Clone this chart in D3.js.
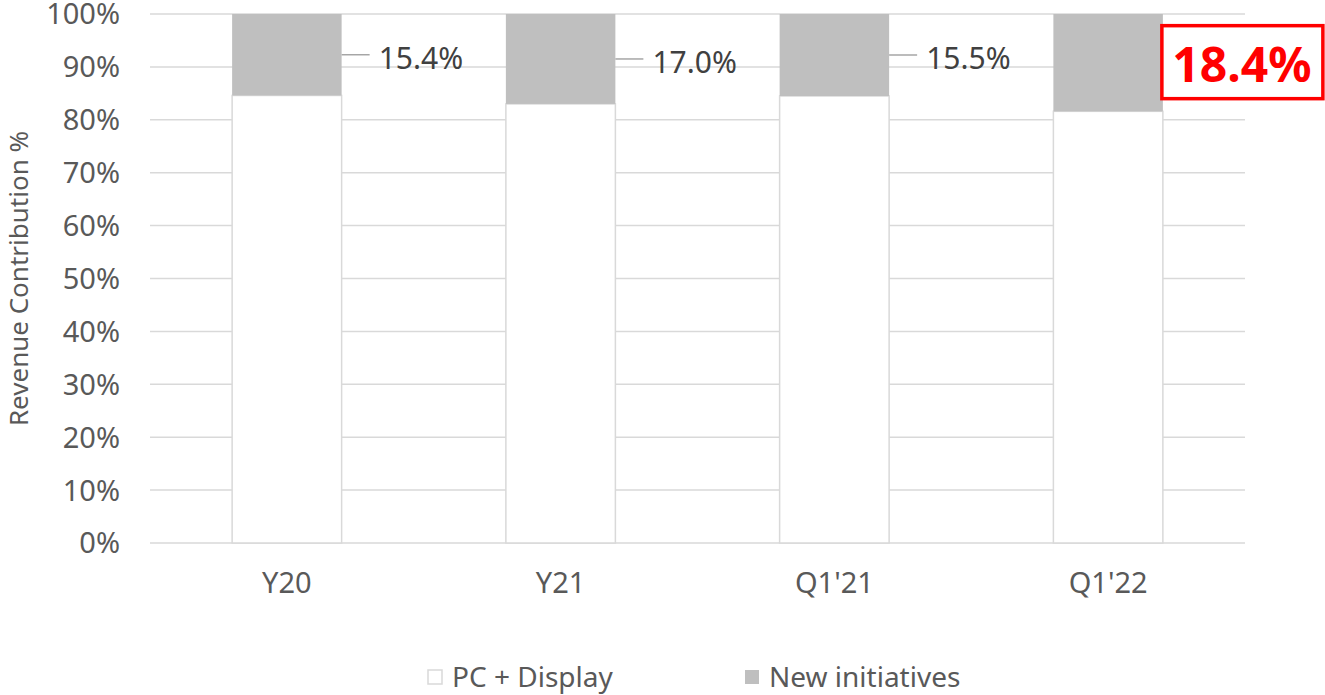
<!DOCTYPE html>
<html>
<head>
<meta charset="utf-8">
<script src="https://cdn.jsdelivr.net/npm/d3@7"></script>
<style>
  body { margin: 0; background: #fff; }
  text { font-family: "Noto Sans", "Open Sans", sans-serif; }
</style>
</head>
<body>
<svg id="chart" width="1325" height="695"></svg>
<script>
const categories = ['Y20', 'Y21', "Q1'21", "Q1'22"]
const newInitiatives = [15.4, 17.0, 15.5, 18.4]
const pcDisplay = newInitiatives.map(v => 100 - v)
const yTicks = [0, 10, 20, 30, 40, 50, 60, 70, 80, 90, 100]
const seriesNames = ['PC + Display', 'New initiatives']

const grid = '#d9d9d9'
const grey = '#bfbfbf'
const ink = '#595959'

const svg = d3.select('#chart')
const m = {left: 150, right: 1245, top: 14, bottom: 543}

const x = d3.scaleBand()
    .domain(categories)
    .range([m.left, m.right])
    .paddingInner(0.6)
    .paddingOuter(0.3)

const y = d3.scaleLinear()
    .domain([0, 100])
    .range([m.bottom, m.top])

// gridlines
svg.append('g')
    .selectAll('line')
    .data(yTicks)
    .join('line')
    .attr('x1', m.left)
    .attr('x2', m.right)
    .attr('y1', d => y(d))
    .attr('y2', d => y(d))
    .attr('stroke', grid)
    .attr('stroke-width', 1.5)

// y tick labels
svg.append('g')
    .selectAll('text')
    .data(yTicks)
    .join('text')
    .attr('x', 120)
    .attr('y', d => y(d))
    .attr('dy', '0.36em')
    .attr('text-anchor', 'end')
    .attr('font-size', 29)
    .attr('fill', ink)
    .text(d => d + '%')

svg.append('text')
    .attr('transform', `translate(28,${(m.top + m.bottom) / 2}) rotate(-90)`)
    .attr('text-anchor', 'middle')
    .attr('font-size', 26)
    .attr('fill', ink)
    .text('Revenue Contribution %')

const rows = categories.map((c, i) => ({cat: c, pc: pcDisplay[i], ni: newInitiatives[i]}))

const bars = svg.append('g')
    .selectAll('g')
    .data(rows)
    .join('g')

bars.append('rect')
    .attr('x', d => x(d.cat))
    .attr('width', x.bandwidth())
    .attr('y', d => y(d.pc))
    .attr('height', d => y(0) - y(d.pc))
    .attr('fill', '#fff')
    .attr('stroke', grid)
    .attr('stroke-width', 1.5)

bars.append('rect')
    .attr('x', d => x(d.cat))
    .attr('width', x.bandwidth())
    .attr('y', d => y(100))
    .attr('height', d => y(d.pc) - y(100))
    .attr('fill', grey)

// leader labels, all but the last
const plain = rows.slice(0, -1)
const last = rows[rows.length - 1]
const midNi = d => y(d.pc + d.ni / 2)

svg.append('g')
    .selectAll('line')
    .data(plain)
    .join('line')
    .attr('x1', d => x(d.cat) + x.bandwidth())
    .attr('x2', d => x(d.cat) + x.bandwidth() + 28)
    .attr('y1', midNi)
    .attr('y2', midNi)
    .attr('stroke', '#a6a6a6')
    .attr('stroke-width', 1.5)

svg.append('g')
    .selectAll('text')
    .data(plain)
    .join('text')
    .attr('x', d => x(d.cat) + x.bandwidth() + 37)
    .attr('y', d => midNi(d) + 3)
    .attr('dy', '0.36em')
    .attr('font-size', 30)
    .attr('fill', '#404040')
    .text(d => d.ni.toFixed(1) + '%')

// highlighted last label
const hl = svg.append('g')
    .attr('transform', `translate(${x(last.cat) + x.bandwidth()},${midNi(last)})`)
hl.append('rect')
    .attr('x', -1)
    .attr('y', -37)
    .attr('width', 161)
    .attr('height', 73)
    .attr('fill', '#fff')
    .attr('stroke', '#ff0000')
    .attr('stroke-width', 3.5)
hl.append('text')
    .attr('x', 79)
    .attr('y', 2)
    .attr('dy', '0.36em')
    .attr('text-anchor', 'middle')
    .attr('font-size', 48)
    .attr('font-weight', 'bold')
    .attr('fill', '#ff0000')
    .text(last.ni.toFixed(1) + '%')

// category labels
svg.append('g')
    .selectAll('text')
    .data(categories)
    .join('text')
    .attr('x', d => x(d) + x.bandwidth() / 2)
    .attr('y', 593)
    .attr('text-anchor', 'middle')
    .attr('font-size', 29)
    .attr('fill', ink)
    .text(d => d)

// legend
const legendX = [428, 745]
const lg = svg.append('g')
    .selectAll('g')
    .data(seriesNames)
    .join('g')
    .attr('transform', (d, i) => `translate(${legendX[i]},670)`)
lg.append('rect')
    .attr('width', 14)
    .attr('height', 14)
    .attr('fill', (d, i) => i ? grey : '#fff')
    .attr('stroke', (d, i) => i ? 'none' : grid)
    .attr('stroke-width', 1.5)
lg.append('text')
    .attr('x', 24)
    .attr('y', 7)
    .attr('dy', '0.36em')
    .attr('font-size', 28)
    .attr('fill', ink)
    .text(d => d)
</script>
</body>
</html>
